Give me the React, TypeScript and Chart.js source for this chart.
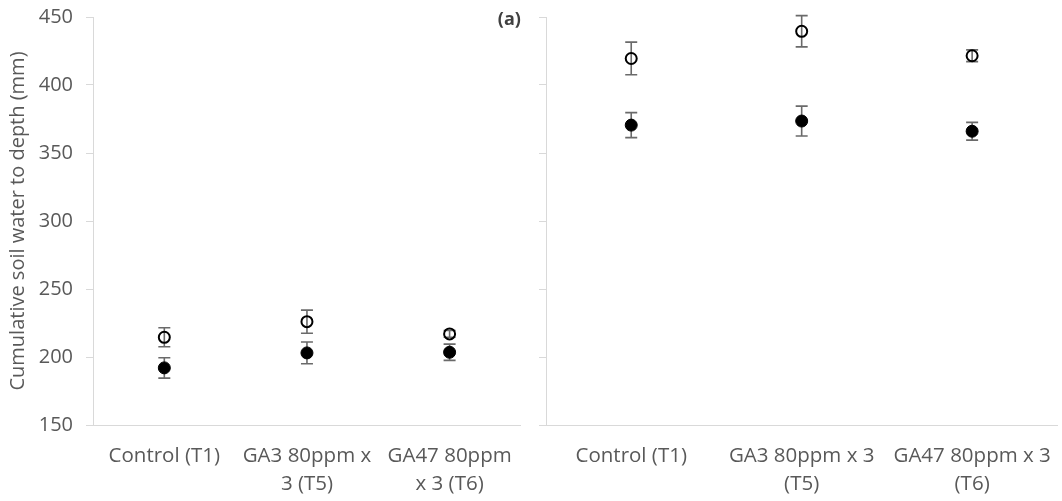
import React, { useEffect, useRef } from "react";
import { Chart, registerables } from "chart.js";

Chart.register(...registerables);

// ---- Data ----
const categoriesLeft: (string | string[])[] = [
  "Control (T1)",
  ["GA3 80ppm x", "3 (T5)"],
  ["GA47 80ppm", "x 3 (T6)"],
];
const categoriesRight: (string | string[])[] = [
  "Control (T1)",
  ["GA3 80ppm x 3", "(T5)"],
  ["GA47 80ppm x 3", "(T6)"],
];

const leftOpen = [214.5, 226, 217];
const leftOpenErr = [7, 8.5, 2.5];
const leftFilled = [192, 203, 203.5];
const leftFilledErr = [7.5, 8, 6];

const rightOpen = [419.5, 439.5, 421.5];
const rightOpenErr = [12, 11.5, 4.3];
const rightFilled = [370.5, 373.5, 366];
const rightFilledErr = [9.2, 11, 6.5];

const yMin = 150;
const yMax = 450;
const yStep = 50;
const yTitle = "Cumulative soil water to depth (mm)";
const panelLabel = "(a)";

const FONT = "'Open Sans', 'Noto Sans', sans-serif";
const TEXT = "#595959";
const AXIS = "#d9d9d9";

const errorBarPlugin = {
  id: "errorBars",
  beforeDatasetsDraw(chart: any) {
    const ctx = chart.ctx;
    const y = chart.scales.y;
    chart.data.datasets.forEach((ds: any, i: number) => {
      const meta = chart.getDatasetMeta(i);
      const errs: number[] = ds.errors || [];
      meta.data.forEach((pt: any, j: number) => {
        const v = ds.data[j] as number;
        const e = errs[j];
        if (e == null) return;
        const top = y.getPixelForValue(v + e);
        const bot = y.getPixelForValue(v - e);
        const x = pt.x;
        ctx.save();
        ctx.strokeStyle = "#6a6a6a";
        ctx.lineWidth = 1.6;
        ctx.beginPath();
        ctx.moveTo(x, top);
        ctx.lineTo(x, bot);
        ctx.moveTo(x - 6, top);
        ctx.lineTo(x + 6, top);
        ctx.moveTo(x - 6, bot);
        ctx.lineTo(x + 6, bot);
        ctx.stroke();
        ctx.restore();
      });
    });
  },
};

const panelLabelPlugin = {
  id: "panelLabel",
  afterDraw(chart: any) {
    const opts = chart.options.plugins.panelLabel;
    if (!opts || !opts.text) return;
    const ctx = chart.ctx;
    const area = chart.chartArea;
    ctx.save();
    ctx.font = `bold 18px ${FONT}`;
    ctx.fillStyle = "#404040";
    ctx.textAlign = "right";
    ctx.textBaseline = "middle";
    ctx.fillText(opts.text, area.right, area.top + 3);
    ctx.restore();
  },
};

function makeConfig(
  labels: (string | string[])[],
  open: number[],
  openErr: number[],
  filled: number[],
  filledErr: number[],
  isLeft: boolean
): any {
  return {
    type: "line",
    data: {
      labels,
      datasets: [
        {
          label: "open",
          data: open,
          errors: openErr,
          showLine: false,
          pointRadius: 5.5,
          pointHoverRadius: 5.5,
          pointBackgroundColor: "rgba(0,0,0,0)",
          pointBorderColor: "#000000",
          pointBorderWidth: 2,
        },
        {
          label: "filled",
          data: filled,
          errors: filledErr,
          showLine: false,
          pointRadius: 6,
          pointHoverRadius: 6,
          pointBackgroundColor: "#000000",
          pointBorderColor: "#000000",
          pointBorderWidth: 1,
        },
      ],
    },
    options: {
      animation: false,
      responsive: false,
      maintainAspectRatio: false,
      layout: {
        padding: { top: 17, right: isLeft ? 8 : 0, left: 0, bottom: 0 },
      },
      plugins: {
        legend: { display: false },
        tooltip: { enabled: false },
        panelLabel: { text: isLeft ? panelLabel : "" },
      },
      scales: {
        x: {
          type: "category",
          offset: true,
          grid: {
            display: true,
            drawOnChartArea: false,
            drawTicks: false,
            color: "rgba(0,0,0,0)",
          },
          border: { display: true, color: AXIS, width: 1 },
          ticks: {
            color: TEXT,
            font: { family: FONT, size: 20.5, lineHeight: "28px" },
            padding: 17,
            maxRotation: 0,
            minRotation: 0,
            autoSkip: false,
          },
          afterFit: (s: any) => {
            s.height = 76;
          },
        },
        y: {
          min: yMin,
          max: yMax,
          ticks: {
            stepSize: yStep,
            display: isLeft,
            color: TEXT,
            font: { family: FONT, size: 20 },
            padding: 13,
          },
          grid: {
            drawOnChartArea: false,
            drawTicks: true,
            tickLength: 7,
            color: AXIS,
          },
          border: { display: true, color: AXIS, width: 1 },
          title: {
            display: isLeft,
            text: yTitle,
            color: TEXT,
            font: { family: FONT, size: 20 },
            padding: { top: 6, bottom: 0 },
          },
          afterFit: (s: any) => {
            s.width = isLeft ? 93 : 16;
            s.paddingTop = 0;
            s.paddingBottom = 0;
          },
        },
      },
    },
    plugins: [errorBarPlugin, panelLabelPlugin],
  };
}

function Panel(props: { left: number; width: number; cfg: any }) {
  const ref = useRef<HTMLCanvasElement | null>(null);
  useEffect(() => {
    if (!ref.current) return;
    const chart = new Chart(ref.current, props.cfg);
    return () => chart.destroy();
  }, []);
  return (
    <canvas
      ref={ref}
      width={props.width}
      height={501}
      style={{
        position: "absolute",
        left: props.left,
        top: 0,
        width: props.width,
        height: 501,
      }}
    />
  );
}

export default function App() {
  const leftCfg = makeConfig(
    categoriesLeft,
    leftOpen,
    leftOpenErr,
    leftFilled,
    leftFilledErr,
    true
  );
  const rightCfg = makeConfig(
    categoriesRight,
    rightOpen,
    rightOpenErr,
    rightFilled,
    rightFilledErr,
    false
  );
  return (
    <div
      style={{
        position: "fixed",
        left: 0,
        top: 0,
        width: 1062,
        height: 501,
        background: "#ffffff",
        overflow: "hidden",
      }}
    >
      <Panel left={0} width={530} cfg={leftCfg} />
      <Panel left={530} width={539} cfg={rightCfg} />
    </div>
  );
}
